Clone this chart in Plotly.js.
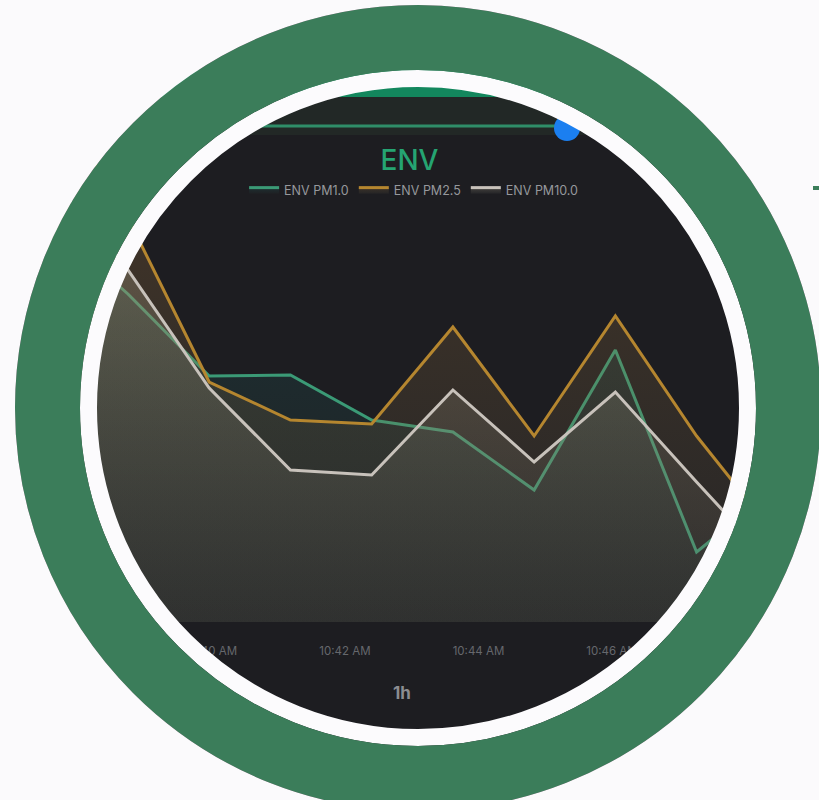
<!DOCTYPE html>
<html>
<head>
<meta charset="utf-8">
<script src="https://cdn.plot.ly/plotly-3.0.1.min.js"></script>
<style>
  html, body { margin: 0; padding: 0; background: #fbfafc; }
  #chart { width: 819px; height: 800px; }
</style>
</head>
<body>
<div id="chart"></div>
<script>
// ---- data ----
const times = [
  '2024-01-01 10:37:32',
  '2024-01-01 10:38:45', '2024-01-01 10:39:58', '2024-01-01 10:41:11',
  '2024-01-01 10:42:24', '2024-01-01 10:43:37', '2024-01-01 10:44:50',
  '2024-01-01 10:46:03', '2024-01-01 10:47:16', '2024-01-01 10:48:29'
];
const pm10 = [20.0, 16.4, 12.3, 12.35, 10.1, 9.5, 6.6, 13.6, 3.5, 6.8];    // ENV PM1.0
const pm25 = [27.0, 20.2, 12.0, 10.1, 9.9, 14.75, 9.3, 15.3, 9.3, 4.2];   // ENV PM2.5
const pm100 = [22.5, 17.6, 11.7, 7.6, 7.35, 11.6, 8.0, 11.5, 7.0, 2.6];   // ENV PM10.0
const seriesNames = ['ENV PM1.0', 'ENV PM2.5', 'ENV PM10.0'];
const tickVals = ['2024-01-01 10:40', '2024-01-01 10:42', '2024-01-01 10:44', '2024-01-01 10:46', '2024-01-01 10:48'];
const tickText = ['10:40 AM', '10:42 AM', '10:44 AM', '10:46 AM', '10:48 AM'];
const chartTitle = 'ENV';
const rangeLabel = '1h';

// ---- geometry helpers (pixel -> paper) ----
const W = 819, H = 800, B = 178;
const PH = H - B;
const X = px => px / W;
const Y = py => (PH - py) / PH;
const CX = 418, CY = 408;
function ring(R, width, color) {
  return { type: 'circle', xref: 'paper', yref: 'paper',
    x0: X(CX - R), x1: X(CX + R), y0: Y(CY + R), y1: Y(CY - R),
    line: { color: color, width: width }, fillcolor: 'rgba(0,0,0,0)', layer: 'above' };
}

const traces = [
  { x: times, y: pm10, name: seriesNames[0], type: 'scatter', mode: 'lines',
    line: { color: '#3b9a76', width: 3 }, fill: 'tozeroy',
    fillgradient: { type: 'vertical', start: 0, stop: 18,
      colorscale: [[0, 'rgba(40,80,75,0.08)'], [1, 'rgba(30,105,105,0.26)']] } },
  { x: times, y: pm25, name: seriesNames[1], type: 'scatter', mode: 'lines',
    line: { color: '#b5862f', width: 3 }, fill: 'tozeroy',
    fillgradient: { type: 'vertical', start: 0, stop: 18,
      colorscale: [[0, 'rgba(110,100,75,0.12)'], [1, 'rgba(150,110,60,0.26)']] } },
  { x: times, y: pm100, name: seriesNames[2], type: 'scatter', mode: 'lines',
    line: { color: '#c8c2bb', width: 3 }, fill: 'tozeroy',
    fillgradient: { type: 'vertical', start: 0, stop: 18,
      colorscale: [[0, 'rgba(120,118,108,0.10)'], [1, 'rgba(170,160,135,0.30)']] } }
];

const shapes = [
  // header band and slider
  { type: 'rect', xref: 'paper', yref: 'paper', x0: 0, x1: 1, y0: Y(97), y1: Y(70),
    fillcolor: '#13875d', line: { width: 0 } },
  { type: 'rect', xref: 'paper', yref: 'paper', x0: 0, x1: 1, y0: Y(135), y1: Y(97),
    fillcolor: '#222826', line: { width: 0 } },
  { type: 'line', xref: 'paper', yref: 'paper', x0: X(150), x1: X(567), y0: Y(126), y1: Y(126),
    line: { color: '#2f8d68', width: 3 } },
  { type: 'circle', xref: 'paper', yref: 'paper', x0: X(554), x1: X(580), y0: Y(141), y1: Y(115),
    fillcolor: '#1b7ff0', line: { width: 0 } },
  // rings / mask
  ring(329.5, 17, '#fcfbfd'),
  ring(370.5, 65, '#3b7d5a'),
  ring(502, 198, '#fbfafc'),
  { type: 'rect', xref: 'paper', yref: 'paper', x0: X(813), x1: X(819), y0: Y(190), y1: Y(186),
    fillcolor: '#3b7d5a', line: { width: 0 } }
];

const layout = {
  width: W, height: H,
  margin: { l: 0, r: 0, t: 0, b: B },
  paper_bgcolor: '#1d1d21', plot_bgcolor: '#1d1d21',
  showlegend: true,
  title: { text: chartTitle, x: 0.5, xanchor: 'center', xref: 'paper', y: 1 - 160 / H, yanchor: 'middle', yref: 'container',
    font: { family: 'Inter, Roboto, sans-serif', size: 28, color: '#25a472', weight: 500 } },
  legend: { orientation: 'h', x: 0.505, xanchor: 'center', y: Y(190), yanchor: 'middle',
    bgcolor: 'rgba(0,0,0,0)', font: { family: 'Inter, Roboto, sans-serif', size: 12.5, color: '#96989c' },
    itemwidth: 30 },
  xaxis: { type: 'date', range: ['2024-01-01 10:36:50', '2024-01-01 10:49:06'],
    showgrid: false, zeroline: false, showline: false,
    tickvals: tickVals, ticktext: tickText,
    ticks: 'outside', ticklen: 18, tickcolor: 'rgba(0,0,0,0)',
    tickfont: { family: 'Inter, Roboto, sans-serif', size: 11.5, color: '#66686d' } },
  yaxis: { range: [0, PH / 20], visible: false, showgrid: false, zeroline: false },
  shapes: shapes,
  annotations: [
    { text: rangeLabel, xref: 'paper', yref: 'paper', x: X(402), y: Y(693), xanchor: 'center', yanchor: 'middle',
      showarrow: false,
      font: { family: 'Inter, Roboto, sans-serif', size: 17, color: '#8b8d91', weight: 700 } }
  ]
};

Plotly.newPlot('chart', traces, layout, { displayModeBar: false, staticPlot: true });
</script>
</body>
</html>
